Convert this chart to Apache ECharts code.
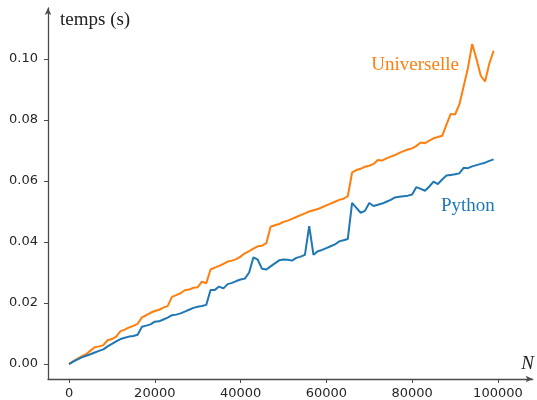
<!DOCTYPE html>
<html>
<head>
<meta charset="utf-8">
<script src="https://cdn.jsdelivr.net/npm/echarts@6/dist/echarts.min.js"></script>
<style>
  html, body { margin: 0; padding: 0; background: #fff; }
  #chart { width: 537px; height: 400px; }
</style>
</head>
<body>
<div id="chart"></div>
<script>
// taille N (abscisses)
var tailles = [
    0, 1000, 2000, 3000, 4000, 5000, 6000, 7000, 8000, 9000,
    10000, 11000, 12000, 13000, 14000, 15000, 16000, 17000, 18000, 19000,
    20000, 21000, 22000, 23000, 24000, 25000, 26000, 27000, 28000, 29000,
    30000, 31000, 32000, 33000, 34000, 35000, 36000, 37000, 38000, 39000,
    40000, 41000, 42000, 43000, 44000, 45000, 46000, 47000, 48000, 49000,
    50000, 51000, 52000, 53000, 54000, 55000, 56000, 57000, 58000, 59000,
    60000, 61000, 62000, 63000, 64000, 65000, 66000, 67000, 68000, 69000,
    70000, 71000, 72000, 73000, 74000, 75000, 76000, 77000, 78000, 79000,
    80000, 81000, 82000, 83000, 84000, 85000, 86000, 87000, 88000, 89000,
    90000, 91000, 92000, 93000, 94000, 95000, 96000, 97000, 98000, 99000
];

// temps (s) - version universelle
var tempsUniverselle = [
    0.0000, 0.0010, 0.0018, 0.0026, 0.0032, 0.0044, 0.0055, 0.0058, 0.0062, 0.0078,
    0.0082, 0.0090, 0.0108, 0.0113, 0.0120, 0.0125, 0.0132, 0.0153, 0.0160, 0.0168,
    0.0174, 0.0178, 0.0185, 0.0190, 0.0220, 0.0226, 0.0232, 0.0242, 0.0244, 0.0250,
    0.0252, 0.0270, 0.0265, 0.0310, 0.0316, 0.0322, 0.0328, 0.0336, 0.0339, 0.0344,
    0.0352, 0.0363, 0.0370, 0.0378, 0.0386, 0.0388, 0.0396, 0.0450, 0.0455, 0.0459,
    0.0466, 0.0470, 0.0476, 0.0482, 0.0488, 0.0494, 0.0500, 0.0504, 0.0508, 0.0514,
    0.0520, 0.0526, 0.0532, 0.0538, 0.0542, 0.0550, 0.0628, 0.0636, 0.0640, 0.0647,
    0.0650, 0.0656, 0.0669, 0.0667, 0.0674, 0.0680, 0.0685, 0.0692, 0.0698, 0.0703,
    0.0707, 0.0715, 0.0726, 0.0724, 0.0732, 0.0740, 0.0744, 0.0748, 0.0785, 0.0820,
    0.0818, 0.0850, 0.0910, 0.0970, 0.1049, 0.1000, 0.0945, 0.0926, 0.0985, 0.1027
];

// temps (s) - version Python
var tempsPython = [
    0.0000, 0.0008, 0.0015, 0.0022, 0.0027, 0.0032, 0.0038, 0.0043, 0.0048, 0.0058,
    0.0066, 0.0074, 0.0082, 0.0086, 0.0090, 0.0092, 0.0096, 0.0122, 0.0126, 0.0130,
    0.0139, 0.0140, 0.0146, 0.0152, 0.0160, 0.0162, 0.0166, 0.0172, 0.0178, 0.0184,
    0.0188, 0.0190, 0.0194, 0.0243, 0.0243, 0.0254, 0.0248, 0.0262, 0.0266, 0.0272,
    0.0277, 0.0280, 0.0300, 0.0350, 0.0342, 0.0312, 0.0310, 0.0320, 0.0330, 0.0340,
    0.0343, 0.0342, 0.0339, 0.0348, 0.0352, 0.0358, 0.0452, 0.0358, 0.0370, 0.0374,
    0.0380, 0.0386, 0.0392, 0.0402, 0.0406, 0.0410, 0.0528, 0.0512, 0.0496, 0.0502,
    0.0528, 0.0518, 0.0522, 0.0526, 0.0532, 0.0538, 0.0546, 0.0548, 0.0550, 0.0552,
    0.0556, 0.0580, 0.0574, 0.0568, 0.0582, 0.0598, 0.0590, 0.0605, 0.0618, 0.0620,
    0.0622, 0.0625, 0.0643, 0.0642, 0.0648, 0.0652, 0.0656, 0.0660, 0.0666, 0.0671
];

var ticksX = [0, 20000, 40000, 60000, 80000, 100000];
var ticksY = [0, 0.02, 0.04, 0.06, 0.08, 0.10];

var couleurUniv = '#ff7f0e';
var couleurPy = '#1f77b4';
var couleurAxe = '#4a4a4a';

function paires(xs, ys) {
    return xs.map(function (x, i) { return [x, ys[i]]; });
}

var chart = echarts.init(document.getElementById('chart'));

var texteTicks = { fontFamily: 'DejaVu Sans', fontSize: 13, color: '#262626' };

chart.setOption({
    animation: false,
    grid: { left: 48, right: 2, top: 8, bottom: 21, containLabel: false },
    xAxis: {
        type: 'value',
        min: -4900,
        max: 108100,
        name: 'N',
        nameLocation: 'end',
        nameGap: -5,
        nameTextStyle: {
            fontFamily: 'Liberation Serif', fontStyle: 'italic', fontSize: 19,
            color: '#222', align: 'center', verticalAlign: 'bottom', padding: [0, 0, 6, 0]
        },
        axisLine: {
            onZero: false,
            lineStyle: { color: couleurAxe, width: 1.3 },
            symbol: ['none', 'arrow'], symbolSize: [5, 7]
        },
        axisTick: { customValues: ticksX, length: 4, lineStyle: { color: couleurAxe } },
        axisLabel: Object.assign({
            customValues: ticksX, margin: 8,
            formatter: function (v) { return String(v); }
        }, texteTicks),
        splitLine: { show: false }
    },
    yAxis: {
        type: 'value',
        min: -0.0049,
        max: 0.1167,
        name: 'temps (s)',
        nameLocation: 'end',
        nameGap: -12,
        nameTextStyle: {
            fontFamily: 'Liberation Serif', fontSize: 19, color: '#222',
            align: 'left', verticalAlign: 'middle', padding: [0, 0, 0, 12]
        },
        axisLine: {
            onZero: false,
            lineStyle: { color: couleurAxe, width: 1.3 },
            symbol: ['none', 'arrow'], symbolSize: [5, 7]
        },
        axisTick: { customValues: ticksY, length: 4, lineStyle: { color: couleurAxe } },
        axisLabel: Object.assign({
            customValues: ticksY, margin: 10,
            formatter: function (v) { return v.toFixed(2); }
        }, texteTicks),
        splitLine: { show: false }
    },
    series: [
        {
            name: 'Universelle',
            type: 'line',
            data: paires(tailles, tempsUniverselle),
            showSymbol: false,
            lineStyle: { color: couleurUniv, width: 2 },
            itemStyle: { color: couleurUniv },
            markPoint: {
                symbolSize: 0,
                data: [{ coord: [80700, 0.0980] }],
                label: {
                    show: true, position: 'inside', formatter: 'Universelle',
                    fontFamily: 'Liberation Serif', fontSize: 19, color: couleurUniv
                }
            }
        },
        {
            name: 'Python',
            type: 'line',
            data: paires(tailles, tempsPython),
            showSymbol: false,
            lineStyle: { color: couleurPy, width: 2 },
            itemStyle: { color: couleurPy },
            markPoint: {
                symbolSize: 0,
                data: [{ coord: [93000, 0.0518] }],
                label: {
                    show: true, position: 'inside', formatter: 'Python',
                    fontFamily: 'Liberation Serif', fontSize: 19, color: couleurPy
                }
            }
        }
    ]
});
</script>
</body>
</html>
